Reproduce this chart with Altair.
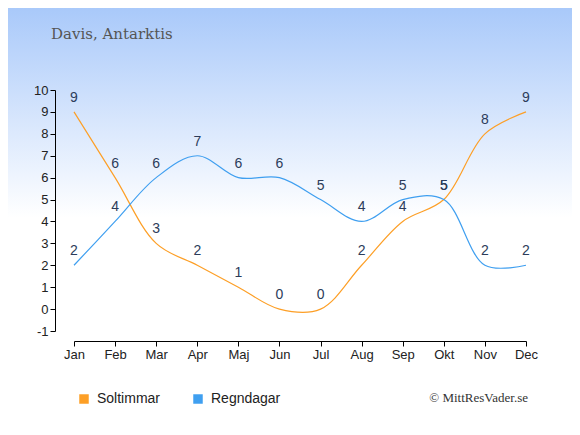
import altair as alt
import pandas as pd

months = ["Jan", "Feb", "Mar", "Apr", "Maj", "Jun", "Jul", "Aug", "Sep", "Okt", "Nov", "Dec"]
soltimmar = [9, 6, 3, 2, 1, 0, 0, 2, 4, 5, 8, 9]
regndagar = [2, 4, 6, 7, 6, 6, 5, 4, 5, 5, 2, 2]
series = ["Soltimmar", "Regndagar"]
colors = ["#fd9f26", "#3f9ff0"]
title_text = "Davis, Antarktis"
credit_text = "© MittResVader.se"

rows = []
for name, vals in zip(series, [soltimmar, regndagar]):
    for i, v in enumerate(vals):
        rows.append({"idx": i, "month": months[i], "value": v, "series": name})
df = pd.DataFrame(rows)

W, H = 452, 241
PL, PT, PR, PB = 66, 82, 46, 96

month_expr = "[" + ",".join(f"'{m}'" for m in months) + "][datum.value]"

x = alt.X("idx:Q", scale=alt.Scale(domain=[0, 11], nice=False, zero=False),
          axis=alt.Axis(values=list(range(12)), labelExpr=month_expr, title=None,
                        grid=False, offset=10, domainColor="#000", tickColor="#000",
                        tickSize=5, labelFontSize=13, labelColor="#222",
                        labelFont="Liberation Sans", labelPadding=2, zindex=2,
                        labelOverlap=False, labelFlush=False))
y = alt.Y("value:Q", scale=alt.Scale(domain=[-1, 10], nice=False, zero=False),
          axis=alt.Axis(values=list(range(-1, 11)), labelExpr="'' + datum.value",
                        title=None, grid=False, offset=19,
                        domainColor="#000", tickColor="#000", tickSize=5,
                        labelFontSize=13, labelColor="#222", labelFont="Liberation Sans",
                        labelPadding=2, zindex=2, labelOverlap=False, labelFlush=False))

color_scale = alt.Scale(domain=series, range=colors)
legend = alt.Legend(title=None, orient="none", direction="horizontal",
                    legendX=3, legendY=302, symbolType="square",
                    symbolSize=90, symbolOpacity=1, symbolStrokeWidth=0,
                    labelFontSize=14, labelFont="Liberation Sans",
                    labelColor="#222", labelOffset=6, columnPadding=30,
                    zindex=2)
color = alt.Color("series:N", scale=color_scale, legend=legend)

bg = alt.Chart(alt.Data(values=[{}])).mark_rect(
    color=alt.Gradient(gradient="linear", x1=0, y1=0, x2=0, y2=1,
                       stops=[alt.GradientStop(color="#a9c9fa", offset=0),
                              alt.GradientStop(color="#ffffff", offset=0.5),
                              alt.GradientStop(color="#ffffff", offset=1)])
).encode(x=alt.value(-PL), x2=alt.value(W + PR), y=alt.value(-PT), y2=alt.value(H + PB))

base = alt.Chart(df).encode(x=x, y=y)

lines = base.mark_line(interpolate="catmull-rom", strokeWidth=1.2).encode(
    color=color, detail="series:N",
)

labels = base.mark_text(dy=-14, fontSize=14, font="Liberation Sans", color="#2c3c5a").encode(
    text="value:Q"
)

legend_marks = base.mark_square(size=0, opacity=1).encode(color=color)

credit = alt.Chart(alt.Data(values=[{}])).mark_text(
    text=credit_text, font="Liberation Serif", fontSize=13, color="#333",
    align="right", baseline="middle"
).encode(x=alt.value(454), y=alt.value(308))

chart = alt.layer(bg, lines, labels, legend_marks, credit).properties(
    width=W, height=H,
    padding={"left": PL, "top": PT, "right": PR, "bottom": PB},
    autosize=alt.AutoSizeParams(type="none"),
    title=alt.TitleParams(title_text, anchor="start", dx=43, offset=-34, fontSize=15,
                          font="DejaVu Serif", fontWeight="normal", color="#555",
                          zindex=2),
    background="#ffffff",
).configure_view(stroke=None)

chart.save("out.html", embed_options={"renderer": "svg", "actions": False})
